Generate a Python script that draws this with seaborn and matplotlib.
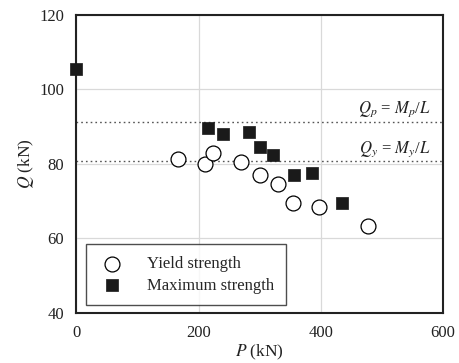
import matplotlib
matplotlib.use("Agg")
import matplotlib.pyplot as plt
import seaborn as sns
import pandas as pd

# Data
yield_P = [166, 211, 223, 270, 300, 330, 355, 397, 477]
yield_Q = [81.3, 79.9, 83.0, 80.4, 77.0, 74.6, 69.6, 68.5, 63.2]
max_P = [0, 215, 240, 282, 300, 321, 356, 385, 434]
max_Q = [105.5, 89.7, 88.0, 88.4, 84.6, 82.3, 77.1, 77.4, 69.6]
Qp = 91.1
Qy = 80.6
x_ticks = [0, 200, 400, 600]
y_ticks = [40, 60, 80, 100, 120]

sns.set_theme(style="white")
plt.rcParams['font.family'] = ['Liberation Serif', 'DejaVu Serif']
plt.rcParams['mathtext.fontset'] = 'stix'

fig = plt.figure(figsize=(4.6, 3.63), dpi=100)
ax = fig.add_axes([0.166, 0.138, 0.797, 0.822])

df_y = pd.DataFrame({"P": yield_P, "Q": yield_Q})
df_m = pd.DataFrame({"P": max_P, "Q": max_Q})

ax.axhline(Qp, color="#555555", linestyle=(0, (1.2, 2.2)), linewidth=1.0, zorder=1)
ax.axhline(Qy, color="#555555", linestyle=(0, (1.2, 2.2)), linewidth=1.0, zorder=1)

sns.scatterplot(data=df_y, x="P", y="Q", ax=ax, marker="o", s=115,
                facecolor="white", edgecolor="black", linewidth=0.9,
                label="Yield strength", zorder=3, clip_on=False)
sns.scatterplot(data=df_m, x="P", y="Q", ax=ax, marker="s", s=72,
                color="#1a1a1a", edgecolor="#1a1a1a", linewidth=0.5,
                label="Maximum strength", zorder=4, clip_on=False)

ax.set_xlim(0, 600)
ax.set_ylim(40, 120)
ax.set_xticks(x_ticks)
ax.set_yticks(y_ticks)
ax.grid(True, color="#d9d9d9", linewidth=0.9)
ax.set_axisbelow(True)
for s in ax.spines.values():
    s.set_color("#222222")
    s.set_linewidth(1.5)
ax.tick_params(length=0, labelsize=12, pad=9, colors="#222222")

ax.set_xlabel("$P$ (kN)", fontsize=12.5, labelpad=1, color="#222222")
ax.set_ylabel("$Q$ (kN)", fontsize=12.5, labelpad=2, color="#222222")

ax.text(580, 93.6, "$Q_p$ = $M_p$/$L$", ha="right", va="baseline", fontsize=12, color="#222222")
ax.text(580, 82.9, "$Q_y$ = $M_y$/$L$", ha="right", va="baseline", fontsize=12, color="#222222")

leg = ax.legend(loc="lower left", bbox_to_anchor=(0.025, 0.025), fontsize=12,
                frameon=True, fancybox=False, edgecolor="#222222",
                borderpad=0.7, handletextpad=1.2, labelspacing=0.35,
                borderaxespad=0, handlelength=1.8)
leg.get_frame().set_linewidth(1.0)

fig.savefig("out.png", dpi=100)
